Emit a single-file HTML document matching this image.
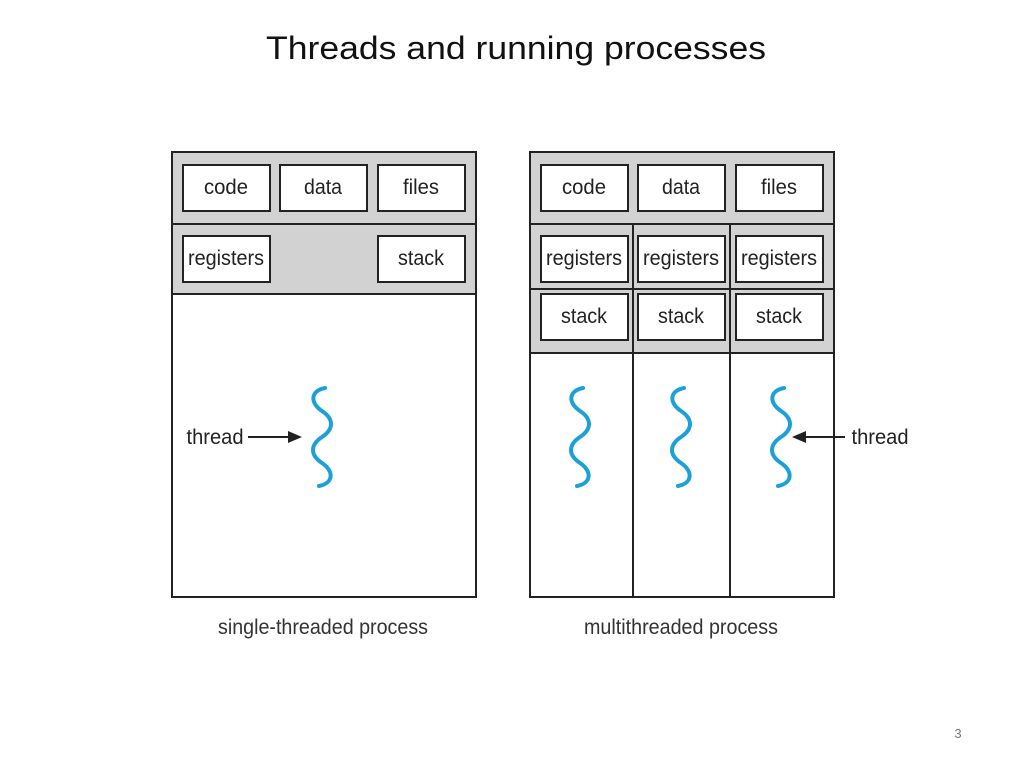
<!DOCTYPE html>
<html><head><meta charset="utf-8"><style>html,body{margin:0;padding:0;background:#fff;}svg{display:block}</style></head>
<body>
<svg width="1024" height="768" viewBox="0 0 1024 768" xmlns="http://www.w3.org/2000/svg" font-family="Liberation Sans, sans-serif">
<defs>
<path id="sq" d="M3,-49 C-12,-46 -12,-34 0,-26 C12,-18 12,-8 0,0 C-12,8 -12,18 0,26 C12,34 12,46 -3,49" fill="none" stroke="#1ba1d8" stroke-width="4" stroke-linecap="round"/>
</defs>
<text x="516" y="59" font-family="Liberation Sans, sans-serif" font-size="32" text-anchor="middle" fill="#111" textLength="500" lengthAdjust="spacingAndGlyphs">Threads and running processes</text>
<g stroke="#222" stroke-width="2">
<rect x="172" y="152" width="304" height="142" fill="#d2d2d2"/>
<rect x="172" y="294" width="304" height="303" fill="#fff"/>
<line x1="172" y1="224" x2="476" y2="224"/>
<rect x="183" y="165" width="87" height="46" fill="#fff"/>
<rect x="280" y="165" width="87" height="46" fill="#fff"/>
<rect x="378" y="165" width="87" height="46" fill="#fff"/>
<rect x="183" y="236" width="87" height="46" fill="#fff"/>
<rect x="378" y="236" width="87" height="46" fill="#fff"/>
<rect x="530" y="152" width="304" height="201" fill="#d2d2d2"/>
<rect x="530" y="353" width="304" height="244" fill="#fff"/>
<line x1="530" y1="224" x2="834" y2="224"/>
<line x1="530" y1="289" x2="834" y2="289"/>
<line x1="633" y1="224" x2="633" y2="597"/>
<line x1="730" y1="224" x2="730" y2="597"/>
<rect x="541" y="165" width="87" height="46" fill="#fff"/>
<rect x="638" y="165" width="87" height="46" fill="#fff"/>
<rect x="736" y="165" width="87" height="46" fill="#fff"/>
<rect x="541" y="236" width="87" height="46" fill="#fff"/>
<rect x="638" y="236" width="87" height="46" fill="#fff"/>
<rect x="736" y="236" width="87" height="46" fill="#fff"/>
<rect x="541" y="294" width="87" height="46" fill="#fff"/>
<rect x="638" y="294" width="87" height="46" fill="#fff"/>
<rect x="736" y="294" width="87" height="46" fill="#fff"/>
<line x1="248" y1="437" x2="292" y2="437"/>
<line x1="845" y1="437" x2="802" y2="437"/>
</g>
<polygon points="302,437 288,431 288,443" fill="#222"/>
<polygon points="792,437 806,431 806,443" fill="#222"/>
<use href="#sq" x="322" y="437"/>
<use href="#sq" x="580" y="437"/>
<use href="#sq" x="681" y="437"/>
<use href="#sq" x="781" y="437"/>
<g font-size="21" fill="#222" text-anchor="middle">
<text x="226" y="194" textLength="44" lengthAdjust="spacingAndGlyphs">code</text>
<text x="323" y="194" textLength="38" lengthAdjust="spacingAndGlyphs">data</text>
<text x="421" y="194" textLength="36" lengthAdjust="spacingAndGlyphs">files</text>
<text x="226" y="265" textLength="76" lengthAdjust="spacingAndGlyphs">registers</text>
<text x="421" y="265" textLength="46" lengthAdjust="spacingAndGlyphs">stack</text>
<text x="584" y="194" textLength="44" lengthAdjust="spacingAndGlyphs">code</text>
<text x="681" y="194" textLength="38" lengthAdjust="spacingAndGlyphs">data</text>
<text x="779" y="194" textLength="36" lengthAdjust="spacingAndGlyphs">files</text>
<text x="584" y="265" textLength="76" lengthAdjust="spacingAndGlyphs">registers</text>
<text x="681" y="265" textLength="76" lengthAdjust="spacingAndGlyphs">registers</text>
<text x="779" y="265" textLength="76" lengthAdjust="spacingAndGlyphs">registers</text>
<text x="584" y="323" textLength="46" lengthAdjust="spacingAndGlyphs">stack</text>
<text x="681" y="323" textLength="46" lengthAdjust="spacingAndGlyphs">stack</text>
<text x="779" y="323" textLength="46" lengthAdjust="spacingAndGlyphs">stack</text>
<text x="215" y="444" textLength="57" lengthAdjust="spacingAndGlyphs">thread</text>
<text x="880" y="444" textLength="57" lengthAdjust="spacingAndGlyphs">thread</text>
<text x="323" y="634" fill="#333" textLength="210" lengthAdjust="spacingAndGlyphs">single-threaded process</text>
<text x="681" y="634" fill="#333" textLength="194" lengthAdjust="spacingAndGlyphs">multithreaded process</text>
</g>
<text x="958" y="738" font-size="13" fill="#777" text-anchor="middle">3</text>
</svg>
</body></html>
